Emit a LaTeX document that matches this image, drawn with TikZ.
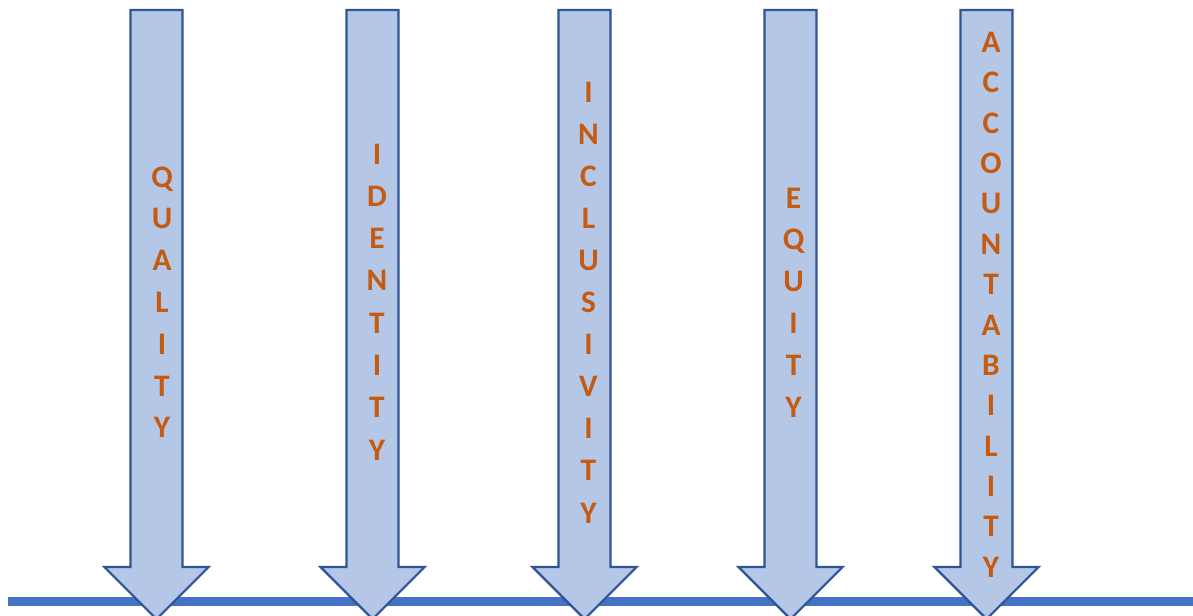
\documentclass[tikz,border=0pt]{standalone}
\usepackage{fontspec}
\setmainfont{Carlito}
\definecolor{shaftfill}{HTML}{B4C7E7}
\definecolor{shaftline}{HTML}{2F5597}
\definecolor{baseblue}{HTML}{4472C4}
\definecolor{lettercol}{HTML}{C55A11}
\tikzset{
  downarrow/.style={fill=shaftfill, draw=shaftline, line width=1.6pt, line join=miter},
  ltr/.style={inner sep=0pt, text height=15.1pt, text depth=0pt, anchor=center,
    text=lettercol, font=\fontsize{23.5}{28}\selectfont\bfseries},
  baseline/.style={draw=baseblue, line width=6.4pt}
}
% block arrow pointing down: centre x, top y
\newcommand{\blockarrow}[1]{%
  \draw[downarrow] ({#1-26},10) -- ({#1+26},10) -- ({#1+26},567) -- ({#1+52},567)
    -- (#1,619) -- ({#1-52},567) -- ({#1-26},567) -- cycle;}
\begin{document}
\begin{tikzpicture}[x=0.75pt,y=-0.75pt]
  \useasboundingbox (0,0) rectangle (1193,615);
  \coordinate (lineL) at (8,601.5);
  \coordinate (lineR) at (1193,601.5);
  \draw[baseline] (lineL) -- (lineR);

  \blockarrow{156.5}
  \blockarrow{372.5}
  \blockarrow{584.5}
  \blockarrow{790.5}
  \blockarrow{986.5}

  \foreach \ch [count=\i] in {Q,U,A,L,I,T,Y}
    \node[ltr] (qual\i) at ({162},{177+(\i-1)*41.8}) {\ch};
  \foreach \ch [count=\i] in {I,D,E,N,T,I,T,Y}
    \node[ltr] (iden\i) at ({377},{154+(\i-1)*42.3}) {\ch};
  \foreach \ch [count=\i] in {I,N,C,L,U,S,I,V,I,T,Y}
    \node[ltr] (incl\i) at ({588.5},{92+(\i-1)*42.1}) {\ch};
  \foreach \ch [count=\i] in {E,Q,U,I,T,Y}
    \node[ltr] (equi\i) at ({793.5},{198+(\i-1)*41.9}) {\ch};
  \foreach \ch [count=\i] in {A,C,C,O,U,N,T,A,B,I,L,I,T,Y}
    \node[ltr] (acco\i) at ({991},{42.5+(\i-1)*40.35}) {\ch};
\end{tikzpicture}
\end{document}
